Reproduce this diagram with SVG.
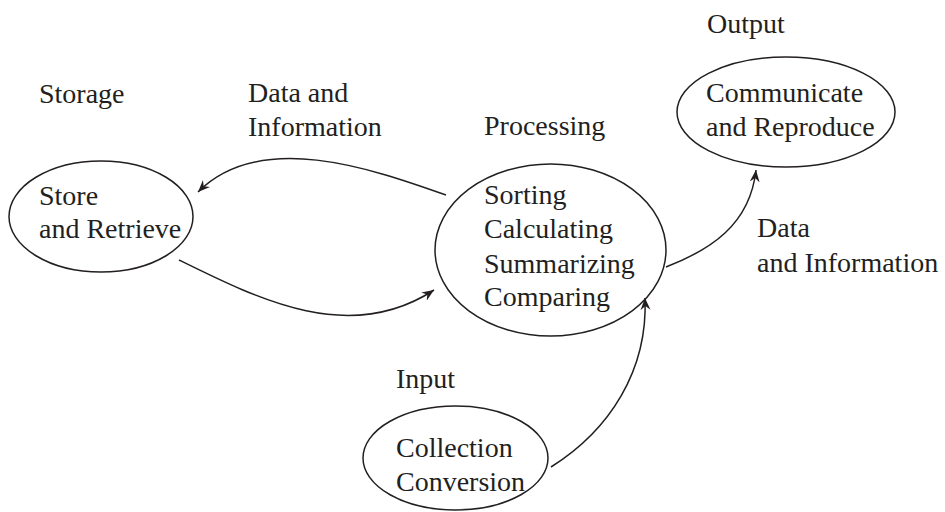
<svg xmlns="http://www.w3.org/2000/svg" width="945" height="512" viewBox="0 0 945 512">
<style>
text{font-family:"Liberation Serif","Times New Roman",serif;font-size:28px;fill:#231f20}
.n{fill:#fff;stroke:#231f20;stroke-width:1.5}
.c{fill:none;stroke:#231f20;stroke-width:1.5}
</style>
<defs>
<marker id="ah" viewBox="-12 -6 13 12" refX="0" refY="0" markerWidth="13" markerHeight="12" markerUnits="userSpaceOnUse" orient="auto">
<path d="M0,0 L-12,-5 L-8,0 L-12,5 Z" fill="#231f20"/>
</marker>
</defs>
<rect width="945" height="512" fill="#fff"/>
<g id="labels">
<text x="39" y="103">Storage</text>
<text x="248" y="102">Data and</text>
<text x="248" y="136">Information</text>
<text x="484" y="135">Processing</text>
<text x="707" y="33">Output</text>
<text x="757" y="237">Data</text>
<text x="757" y="272">and Information</text>
<text x="396" y="388">Input</text>
</g>
<g id="connectors">
<path class="c" d="M446,195 C370,168 260,130 198,192" marker-end="url(#ah)"/>
<path class="c" d="M179,260 C260,300 350,345 434,290" marker-end="url(#ah)"/>
<path class="c" d="M666,267 C710,250 750,225 756,170" marker-end="url(#ah)"/>
<path class="c" d="M551,467 C610,430 648,370 645,298" marker-end="url(#ah)"/>
</g>
<g id="storage">
<ellipse class="n" cx="101" cy="216.5" rx="92" ry="55.5" fill-opacity="0"/>
<text x="39" y="205">Store</text>
<text x="39" y="238">and Retrieve</text>
</g>
<g id="processing">
<ellipse class="n" cx="550.5" cy="250" rx="115.5" ry="86" fill-opacity="0"/>
<text x="484" y="204">Sorting</text>
<text x="484" y="238">Calculating</text>
<text x="484" y="273">Summarizing</text>
<text x="484" y="306">Comparing</text>
</g>
<g id="output">
<ellipse class="n" cx="786" cy="112" rx="109" ry="55" fill-opacity="0"/>
<text x="706" y="102">Communicate</text>
<text x="706" y="136">and Reproduce</text>
</g>
<g id="input">
<ellipse class="n" cx="455.5" cy="458" rx="92.5" ry="52" fill-opacity="0"/>
<text x="396" y="457">Collection</text>
<text x="396" y="491">Conversion</text>
</g>
</svg>
